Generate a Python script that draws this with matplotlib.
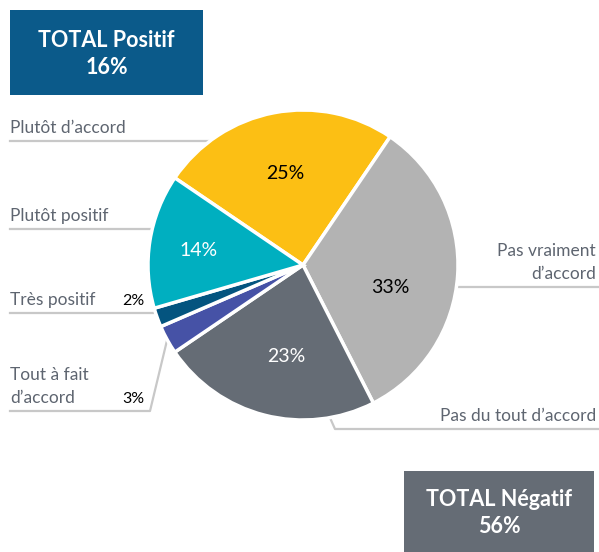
import numpy as np
import matplotlib.pyplot as plt
from matplotlib.patches import Rectangle

# data
categories = ["Plutôt d’accord", "Pas vraiment\nd’accord", "Pas du tout d’accord",
              "Tout à fait\nd’accord", "Très positif", "Plutôt positif"]
values = [25, 33, 23, 3, 2, 14]
colors = ["#FCBF14", "#B3B3B3", "#656C75", "#4652A6", "#04547F", "#00AFC0"]
pct_colors = ["black", "black", "white", None, None, "white"]
total_pos = "TOTAL Positif\n16%"
total_neg = "TOTAL Négatif\n56%"

W, H = 599, 552
FONT = ["Lato", "DejaVu Sans"]
LINE = "#C8C8C8"
TXT = "#5E6570"

def Y(y):
    # image-style y (from top) to axes y
    return H - y

fig = plt.figure(figsize=(W / 100, H / 100), dpi=100)
ax = fig.add_axes([0, 0, 1, 1])

cx, cy, r = 303, Y(265), 155
wedges, _ = ax.pie(values, colors=colors, startangle=145.8, counterclock=False,
                   center=(cx, cy), radius=r,
                   wedgeprops=dict(edgecolor="white", linewidth=2.5))
ax.set_xlim(0, W)
ax.set_ylim(0, H)
ax.set_aspect("equal")
ax.axis("off")

def rim(angle, f=1.0):
    a = np.deg2rad(angle)
    return cx + r * f * np.cos(a), cy + r * f * np.sin(a)

def mid(w):
    return (w.theta1 + w.theta2) / 2

# percent labels inside (frac of radius, angle offset)
inside = {0: (0.6, 0), 1: (0.58, -11), 2: (0.6, 4), 5: (0.68, 1)}
for i, (f, off) in inside.items():
    x, y = rim(mid(wedges[i]) + off, f)
    ax.text(x, y, f"{values[i]}%", ha="center", va="center", fontsize=14,
            color=pct_colors[i], family=FONT)

def circle_x(yl, side):
    return cx + side * np.sqrt(r ** 2 - (yl - cy) ** 2)

lw = 1.6
# Plutôt d'accord
yl = Y(141)
ax.plot([10, circle_x(yl, -1)], [yl, yl], color=LINE, lw=lw, zorder=0)
ax.text(10, yl + 5, categories[0], ha="left", va="bottom", fontsize=12.5, color=TXT, family=FONT)
# Plutôt positif
yl = Y(229)
ax.plot([10, circle_x(yl, -1)], [yl, yl], color=LINE, lw=lw, zorder=0)
ax.text(10, yl + 5, categories[5], ha="left", va="bottom", fontsize=12.5, color=TXT, family=FONT)
# Très positif
yl = Y(313)
ax.plot([10, circle_x(yl, -1)], [yl, yl], color=LINE, lw=lw, zorder=0)
ax.text(10, yl + 5, categories[4], ha="left", va="bottom", fontsize=12.5, color=TXT, family=FONT)
ax.text(133, yl + 5, f"{values[4]}%", ha="center", va="bottom", fontsize=11.5, color="black", family=FONT)
# Tout à fait d'accord
yl = Y(411)
px, py = rim(mid(wedges[3]))
ax.plot([10, 150, px], [yl, yl, py], color=LINE, lw=lw, zorder=0)
ax.text(10, yl + 5, categories[3], ha="left", va="bottom", fontsize=12.5, color=TXT,
        family=FONT, linespacing=1.5)
ax.text(133, yl + 5, f"{values[3]}%", ha="center", va="bottom", fontsize=11.5, color="black", family=FONT)
# Pas vraiment d'accord
yl = Y(287)
ax.plot([circle_x(yl, 1), W], [yl, yl], color=LINE, lw=lw, zorder=0)
ax.text(596, yl + 5, categories[1], ha="right", va="bottom", fontsize=12.5, color=TXT,
        family=FONT, linespacing=1.5, multialignment="right")
# Pas du tout d'accord
yl = Y(429)
px, py = rim(-80)
ax.plot([px, 335, W], [py, yl, yl], color=LINE, lw=lw, zorder=0)
ax.text(596, yl + 5, categories[2], ha="right", va="bottom", fontsize=12.5, color=TXT, family=FONT)

# total boxes
ax.add_patch(Rectangle((10, Y(95)), 193, 85, facecolor="#0B5A8A", edgecolor="none"))
ax.text(106.5, Y(54), total_pos, ha="center", va="center", fontsize=15.5, fontweight="bold",
        color="white", family=FONT, linespacing=1.4)
ax.add_patch(Rectangle((404, 0), 190, Y(471), facecolor="#656C75", edgecolor="none"))
ax.text(499, Y(513), total_neg, ha="center", va="center", fontsize=15.5, fontweight="bold",
        color="white", family=FONT, linespacing=1.4)

fig.savefig("out.png", dpi=100)
